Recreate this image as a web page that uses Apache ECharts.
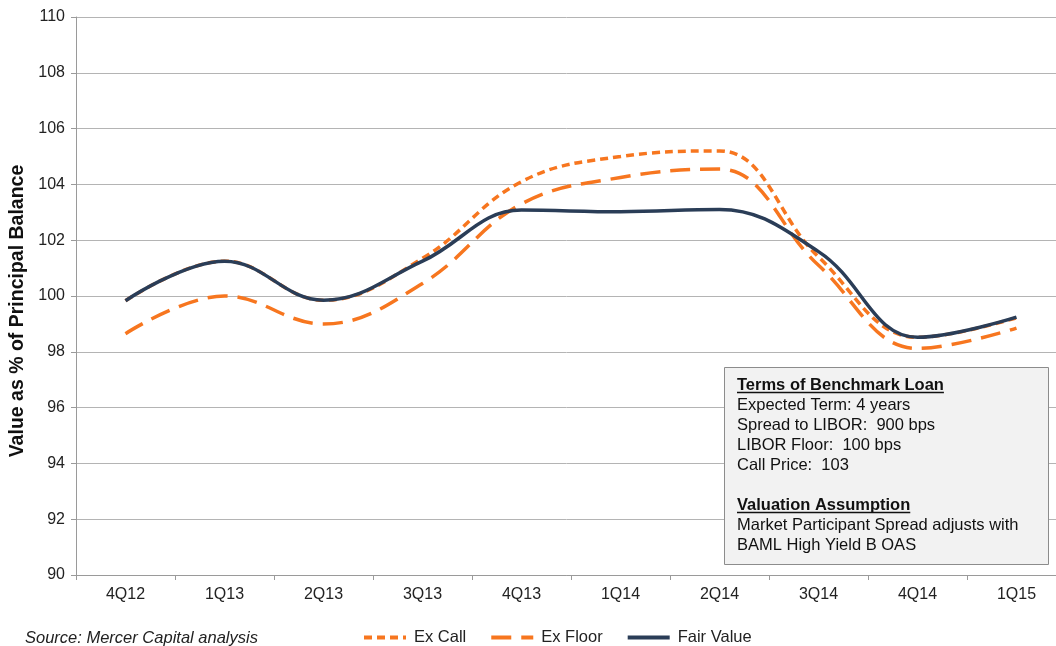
<!DOCTYPE html>
<html>
<head>
<meta charset="utf-8">
<script src="https://cdn.jsdelivr.net/npm/echarts@6/dist/echarts.min.js"></script>
<style>
html,body{margin:0;padding:0;background:#fff;}
#chart{width:1056px;height:646px;}
</style>
</head>
<body>
<div id="chart"></div>
<script>
const categories = ['4Q12','1Q13','2Q13','3Q13','4Q13','1Q14','2Q14','3Q14','4Q14','1Q15'];
const exCall   = [99.83, 101.25, 99.85, 101.35, 104.1, 105.0, 105.2, 101.4, 98.52, 99.22];
const exFloor  = [98.65, 100.0, 99.0, 100.45, 103.3, 104.25, 104.55, 101.1, 98.12, 98.85];
const fairValue= [99.83, 101.25, 99.85, 101.25, 103.08, 103.02, 103.1, 101.59, 98.52, 99.24];
const yTicks = {min: 90, max: 110, interval: 2};
const sourceText = 'Source: Mercer Capital analysis';
const yAxisTitle = 'Value as % of Principal Balance';
const boxLines = [
  {text: 'Terms of Benchmark Loan', bold: true},
  {text: 'Expected Term: 4 years'},
  {text: 'Spread to LIBOR:  900 bps'},
  {text: 'LIBOR Floor:  100 bps'},
  {text: 'Call Price:  103'},
  {text: ''},
  {text: 'Valuation Assumption', bold: true},
  {text: 'Market Participant Spread adjusts with'},
  {text: 'BAML High Yield B OAS'}
];

const FONT = "'Liberation Sans', Arial, Helvetica, sans-serif";
const ORANGE = '#F7761F';
const NAVY = '#2A3D57';
const FS = 16.5;

function measure(txt, bold){
  const c = document.createElement('canvas').getContext('2d');
  c.font = (bold ? 'bold ' : '') + FS + 'px ' + FONT;
  return c.measureText(txt).width;
}

const graphics = [];
const boxX = 724, boxY = 367, boxW = 324, boxH = 197;
graphics.push({type:'rect', left: boxX, top: boxY, shape:{width: boxW, height: boxH},
  style:{fill:'#f2f2f2', stroke:'#8c8c8c', lineWidth:1}, z: 100});
boxLines.forEach((l, i) => {
  const cy = 385 + i * 20;
  if (!l.text) return;
  graphics.push({type:'text', x: 737, y: cy, z: 101,
    style:{text: l.text, fill:'#111', font: (l.bold ? 'bold ' : '') + FS + 'px ' + FONT,
      textVerticalAlign: 'middle', verticalAlign: 'middle'}});
  if (l.bold) {
    const w = measure(l.text, true);
    graphics.push({type:'line', z: 101, shape:{x1: 737, y1: cy + 7.5, x2: 737 + w, y2: cy + 7.5},
      style:{stroke:'#111', lineWidth:1.3}});
  }
});
graphics.push({type:'text', x: 25, y: 638, z: 101,
  style:{text: sourceText, fill:'#222', font: 'italic ' + FS + 'px ' + FONT,
    textVerticalAlign: 'middle', verticalAlign: 'middle'}});
graphics.push({type:'text', x: 18, y: 311, rotation: Math.PI / 2, z: 101,
  style:{text: yAxisTitle, fill:'#111', font: 'bold 19.5px ' + FONT,
    textAlign: 'center', align: 'center', textVerticalAlign: 'middle', verticalAlign: 'middle'}});

const chart = echarts.init(document.getElementById('chart'));
chart.setOption({
  animation: false,
  backgroundColor: '#fff',
  grid: {left: 76, top: 17, width: 990, height: 558, containLabel: false, outerBoundsMode: 'none'},
  legend: {
    left: 357, top: 624,
    itemWidth: 42, itemHeight: 16, itemGap: 23,
    itemStyle: {opacity: 0},
    lineStyle: {width: 4},
    textStyle: {fontFamily: FONT, fontSize: FS, color: '#222', padding: [0, 0, 0, 3]},
    data: ['Ex Call', 'Ex Floor', 'Fair Value']
  },
  xAxis: {
    type: 'category',
    data: categories,
    boundaryGap: true,
    axisLine: {lineStyle: {color: '#9a9a9a', width: 1}},
    axisTick: {show: true, length: 5, lineStyle: {color: '#9a9a9a'}},
    axisLabel: {fontFamily: FONT, fontSize: 16, color: '#222', margin: 12}
  },
  yAxis: {
    type: 'value',
    min: yTicks.min, max: yTicks.max, interval: yTicks.interval,
    axisLine: {show: true, lineStyle: {color: '#9a9a9a', width: 1}},
    axisTick: {show: true, length: 5, lineStyle: {color: '#9a9a9a'}},
    axisLabel: {fontFamily: FONT, fontSize: 16, color: '#222', margin: 11},
    splitLine: {lineStyle: {color: '#b4b4b4', width: 1}}
  },
  series: [
    {name: 'Ex Call', type: 'line', data: exCall, smooth: 0.4, showSymbol: false, symbol: 'none',
      color: ORANGE, lineStyle: {color: ORANGE, width: 3.5, type: [8, 5], cap: 'butt'}, z: 2},
    {name: 'Ex Floor', type: 'line', data: exFloor, smooth: 0.4, showSymbol: false, symbol: 'none',
      color: ORANGE, lineStyle: {color: ORANGE, width: 3.5, type: [20, 10], cap: 'butt'}, z: 3},
    {name: 'Fair Value', type: 'line', data: fairValue, smooth: 0.4, showSymbol: false, symbol: 'none',
      color: NAVY, lineStyle: {color: NAVY, width: 3.5, type: 'solid'}, z: 4}
  ],
  graphic: graphics
});
</script>
</body>
</html>
